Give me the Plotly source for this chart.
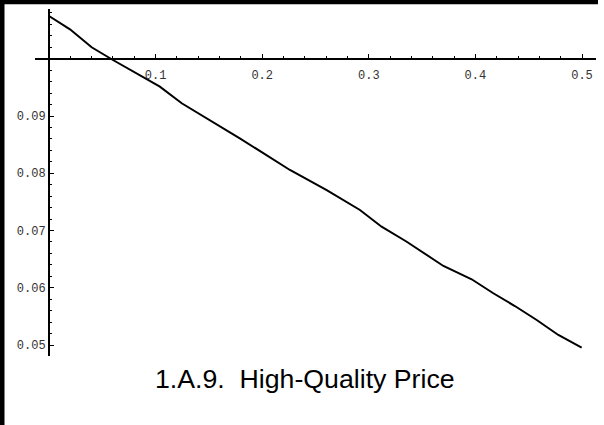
import plotly.graph_objects as go

# Data
quality_share = [0.0, 0.0197, 0.040, 0.060, 0.104, 0.1245, 0.179, 0.226, 0.2605,
                 0.2917, 0.312, 0.3356, 0.370, 0.3965, 0.4168, 0.437, 0.4575,
                 0.4778, 0.4997]
high_quality_price = [0.10747, 0.10514, 0.10200, 0.09978, 0.09512, 0.09222,
                      0.08610, 0.08057, 0.07707, 0.07358, 0.07066, 0.06804,
                      0.06380, 0.06148, 0.05904, 0.05681, 0.05437, 0.05175,
                      0.04953]
x_tick_vals = [0.1, 0.2, 0.3, 0.4, 0.5]
x_tick_text = ["0.1", "0.2", "0.3", "0.4", "0.5"]
y_tick_vals = [0.05, 0.06, 0.07, 0.08, 0.09]
y_tick_text = ["0.05", "0.06", "0.07", "0.08", "0.09"]
title_text = "1.A.9.  High-Quality Price"

W, H = 604, 425
L, R, T, B = 35, 8, 9, 69
pw, ph = W - L - R, H - T - B

def px_x(sx):
    return (sx - L) / pw

def px_y(sy):
    return 1 - (sy - T) / ph

x_range = [-0.01313, 0.51313]
y_range = [0.04808, 0.10869]

fig = go.Figure()
fig.add_trace(go.Scatter(
    x=quality_share, y=high_quality_price, mode="lines",
    line=dict(color="black", width=2), hoverinfo="skip", showlegend=False,
))

tickfont = dict(family="Liberation Mono", size=12, color="#333333")

fig.update_layout(
    width=W, height=H,
    margin=dict(l=L, r=R, t=T, b=B, pad=0),
    paper_bgcolor="white", plot_bgcolor="white",
    showlegend=False,
    xaxis=dict(
        range=x_range, anchor="free",
        position=(0.1 - y_range[0]) / (y_range[1] - y_range[0]),
        showgrid=False, zeroline=False, showline=True, linecolor="black", linewidth=2,
        ticks="inside", ticklen=4, tickwidth=1, tickcolor="black",
        tickvals=x_tick_vals, ticktext=x_tick_text, tickfont=tickfont,
        ticklabelstandoff=5,
        minor=dict(dtick=0.02, tick0=0, ticks="inside", ticklen=2, tickwidth=1,
                   tickcolor="black", showgrid=False),
    ),
    yaxis=dict(
        range=y_range, anchor="free",
        position=(0 - x_range[0]) / (x_range[1] - x_range[0]),
        showgrid=False, zeroline=False, showline=True, linecolor="black", linewidth=2,
        ticks="inside", ticklen=4, tickwidth=1, tickcolor="black",
        tickvals=y_tick_vals, ticktext=y_tick_text, tickfont=tickfont,
        minor=dict(dtick=0.002, tick0=0, ticks="inside", ticklen=2, tickwidth=1,
                   tickcolor="black", showgrid=False),
    ),
    shapes=[
        dict(type="rect", xref="paper", yref="paper",
             x0=px_x(-2), x1=px_x(4.5), y0=px_y(427), y1=px_y(-2),
             fillcolor="black", line=dict(width=0), layer="above"),
        dict(type="rect", xref="paper", yref="paper",
             x0=px_x(-2), x1=px_x(598), y0=px_y(4.3), y1=px_y(-2),
             fillcolor="black", line=dict(width=0), layer="above"),
    ],
    annotations=[
        dict(text=title_text, xref="paper", yref="paper",
             x=px_x(305), y=px_y(379), xanchor="center", yanchor="middle",
             showarrow=False,
             font=dict(family="Liberation Sans", size=26.7, color="black")),
    ],
)

fig.write_html(
    "out.html",
    config={"displayModeBar": False},
    post_script="document.body.style.margin='0';",
)
